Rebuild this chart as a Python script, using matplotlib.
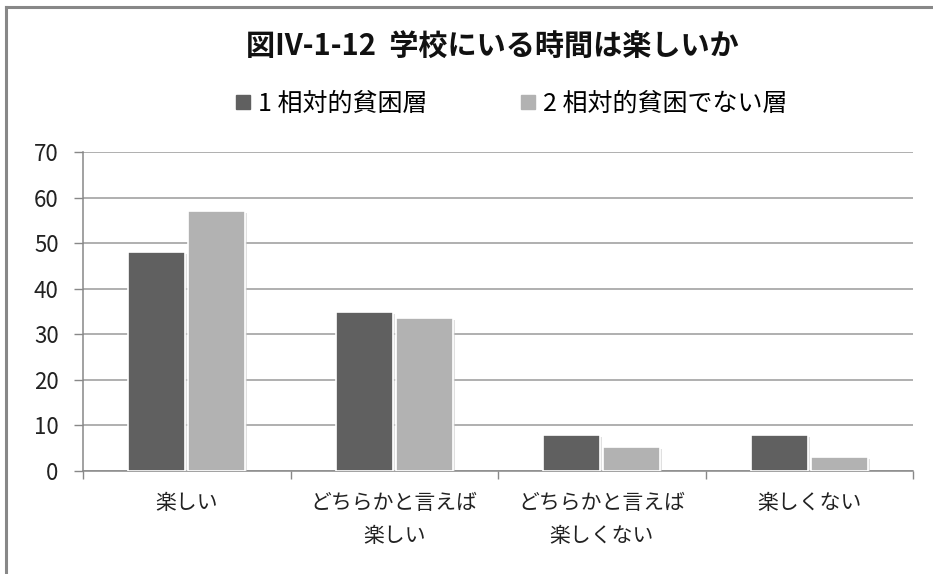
import matplotlib
matplotlib.use("Agg")
import matplotlib.pyplot as plt
import matplotlib.patheffects as pe
from matplotlib.lines import Line2D
import numpy as np

plt.rcParams['font.family'] = ['Noto Sans CJK JP', 'DejaVu Sans']

categories = ["楽しい", "どちらかと言えば\n楽しい", "どちらかと言えば\n楽しくない", "楽しくない"]
series_names = ["1 相対的貧困層", "2 相対的貧困でない層"]
poor = [48, 35, 8, 8]
not_poor = [57, 33.5, 5.3, 3]
colors = ["#606060", "#b2b2b2"]
yticks = [0, 10, 20, 30, 40, 50, 60, 70]
title = "図IV-1-12  学校にいる時間は楽しいか"

W, H = 933, 574
fig = plt.figure(figsize=(W / 100, H / 100), dpi=100)

ax = fig.add_axes([83 / W, (H - 471) / H, (913 - 83) / W, (471 - 152) / H])
x = np.arange(len(categories))
bw = 0.275
shadow = [pe.SimplePatchShadow(offset=(1.5, -1.5), shadow_rgbFace="#cccccc", alpha=0.6), pe.Normal()]
b1 = ax.bar(x - 0.145, poor, bw, color=colors[0], edgecolor="white", linewidth=1.2, zorder=3)
b2 = ax.bar(x + 0.145, not_poor, bw, color=colors[1], edgecolor="white", linewidth=1.2, zorder=3)
for b in list(b1) + list(b2):
    b.set_path_effects(shadow)

ax.set_xlim(-0.5, len(categories) - 0.5)
ax.set_ylim(0, 70)
ax.set_yticks(yticks)
ax.set_yticklabels([str(v) for v in yticks], fontsize=16, color="#222222")
ax.yaxis.grid(True, color="#9a9a9a", linewidth=1.1, zorder=0)
ax.set_axisbelow(True)

ax.set_xticks(np.arange(-0.5, len(categories)), minor=False)
ax.set_xticklabels([])
ax.set_xticks(x, minor=True)
ax.set_xticklabels(categories, minor=True, fontsize=15, color="#222222", linespacing=1.65)
ax.tick_params(axis="x", which="minor", length=0, pad=15)
ax.tick_params(axis="x", which="major", length=6, color="#888888", width=1)
ax.tick_params(axis="y", length=6.5, color="#888888", width=1, pad=11)

for s in ["top", "right"]:
    ax.spines[s].set_visible(False)
for s in ["left", "bottom"]:
    ax.spines[s].set_color("#888888")
    ax.spines[s].set_linewidth(1.1)

fig.text(0.528, 1 - 47 / H, title, ha="center", va="center", fontsize=21, fontweight="bold", color="#111111")

handles = [Line2D([], [], marker="s", linestyle="none", markersize=10, color=c) for c in colors]
fig.legend(handles, series_names, loc="center", bbox_to_anchor=(0.548, 1 - 104 / H), ncol=2,
           frameon=False, fontsize=18, handlelength=0.6, handletextpad=0.3, columnspacing=3.7)

# outer frame lines
fig.add_artist(Line2D([6 / W, 6 / W], [0, 1 - 7 / H], color="#888888", linewidth=2.2))
fig.add_artist(Line2D([6 / W, 1], [1 - 7 / H, 1 - 7 / H], color="#888888", linewidth=2.2))

fig.savefig("out.png", dpi=100)
